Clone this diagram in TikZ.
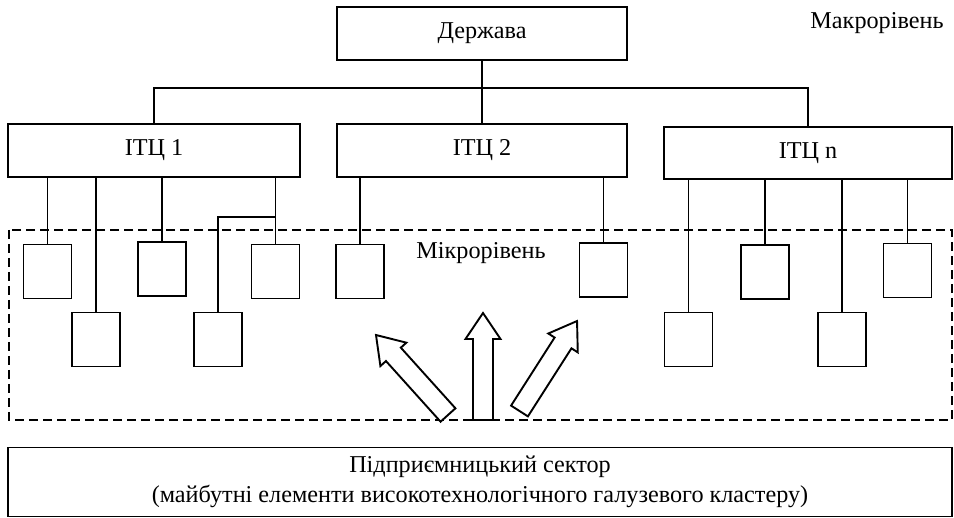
\documentclass[tikz,border=0pt]{standalone}
\usepackage{fontspec}
\setmainfont{Liberation Serif}
\begin{document}
\begin{tikzpicture}[x=1pt,y=-1pt,
  box/.style={draw,line width=1.9pt,inner sep=0pt,font=\fontsize{24.2}{30}\selectfont},
  bigbox/.style={box,minimum width=290pt,minimum height=53pt},
  sbox/.style={draw,line width=1.9pt,minimum width=48pt,minimum height=54pt,inner sep=0pt},
  link/.style={line width=1.9pt},
  lbl/.style={inner sep=0pt,font=\fontsize{24.2}{30}\selectfont},
  blockarrow/.style={draw,line width=1.9pt,fill=white,line join=miter}]
\useasboundingbox (0,0) rectangle (954,518);
% top level
\node[bigbox] (d) at (482,33.5) {Держава};
\node[lbl] (macro) at (877,23) {Макрорівень};
\node[bigbox,minimum width=292pt] (i1) at (154,150.5) {ІТЦ 1};
\node[bigbox] (i2) at (482,150.5) {ІТЦ 2};
\node[bigbox,minimum width=288pt,minimum height=52pt] (in) at (808,153) {ІТЦ n};
\coordinate (bus) at (0,88);
\draw[link] (d.south) -- (d.south |- i2.north);
\draw[link] (i1.north) -- (i1.north |- bus) -| (in.north);
% dashed micro level
\draw[line width=1.7pt,dash pattern=on 9pt off 5pt] (9,230) rectangle (952,420);
\node[lbl] (micro) at (481,253) {Мікрорівень};
% small boxes
\node[sbox] (b1) at (47.5,271.5) {};
\node[sbox] (b2) at (96,339.5) {};
\node[sbox] (b3) at (162,269) {};
\node[sbox] (b4) at (275.5,271.5) {};
\node[sbox] (b5) at (218,339.5) {};
\node[sbox] (b6) at (360,271.5) {};
\node[sbox] (b7) at (603.5,270) {};
\node[sbox] (b8) at (688.5,339.5) {};
\node[sbox] (b9) at (765,272) {};
\node[sbox] (b10) at (842,339.5) {};
\node[sbox] (b11) at (907.5,270.5) {};
\foreach \b in {b1,b2,b3,b4}{\draw[link] (\b.north) -- (\b.north |- i1.south);}
\coordinate (br) at (0,217);
\draw[link] (b5.north) -- (b5.north |- br) -- (b4.north |- br);
\foreach \b in {b6,b7}{\draw[link] (\b.north) -- (\b.north |- i2.south);}
\foreach \b in {b8,b9,b10,b11}{\draw[link] (\b.north) -- (\b.north |- in.south);}
% block arrows
\foreach \px/\py/\ang/\len in {448/415/132/107.6, 483/420/90/107, 519.5/411/57.4/106.8}{
  \begin{scope}[shift={(\px,\py)},rotate=\ang]
    \draw[blockarrow] (0,-10) -- (\len-26,-10) -- (\len-26,-17.5) -- (\len,0) -- (\len-26,17.5) -- (\len-26,10) -- (0,10) -- cycle;
  \end{scope}
}
% bottom box
\node[box,minimum width=944pt,minimum height=69pt,align=center] (ent) at (480,482)
  {Підприємницький сектор\\(майбутні елементи високотехнологічного галузевого кластеру)};
\end{tikzpicture}
\end{document}
